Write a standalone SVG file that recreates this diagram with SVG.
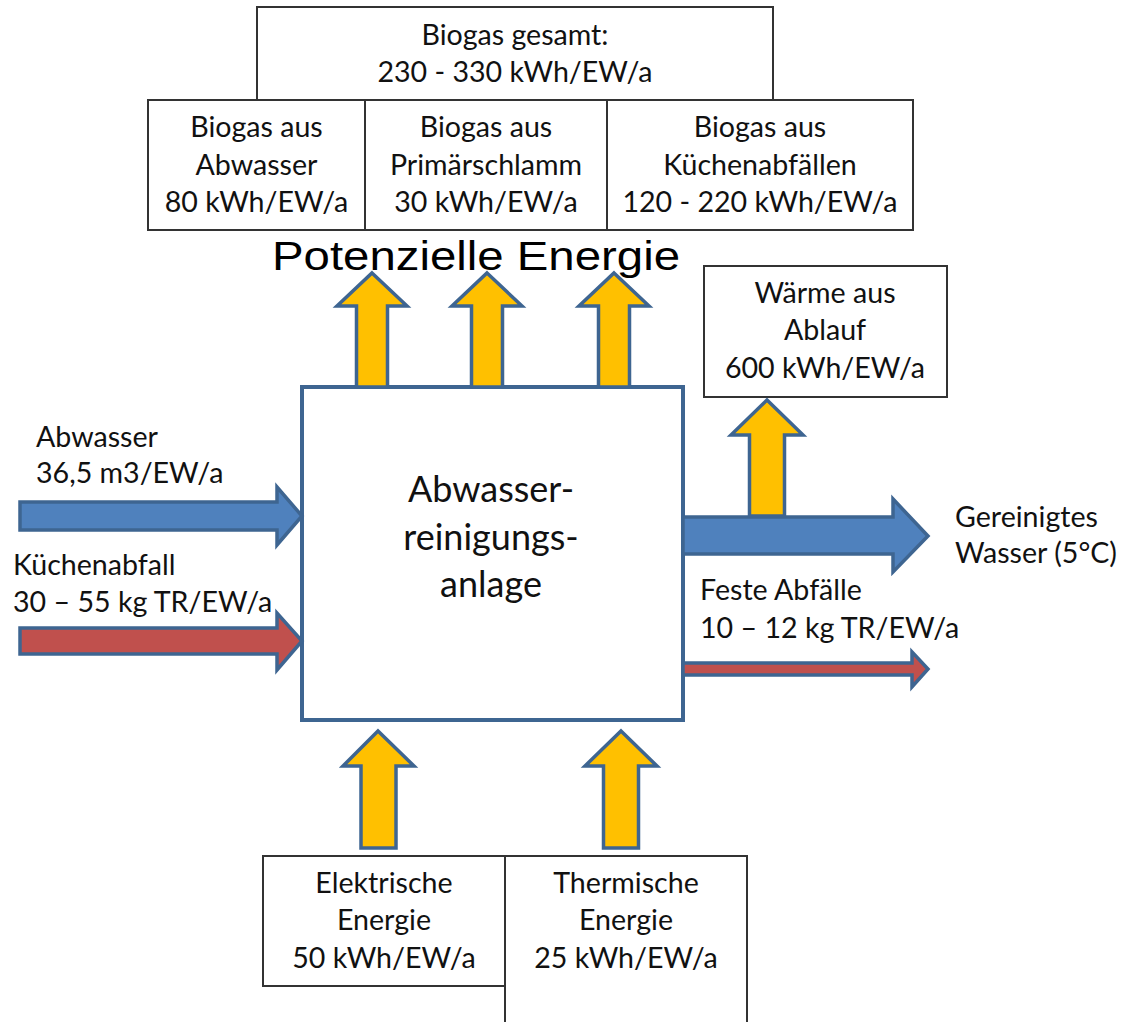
<svg xmlns="http://www.w3.org/2000/svg" width="1130" height="1022" viewBox="0 0 1130 1022">
<style>
.box{fill:#fff;stroke:#333;stroke-width:2}
.main{fill:#fff;stroke:#3E6591;stroke-width:4}
.t{font-family:Lato,"Open Sans","Liberation Sans",sans-serif;font-size:28.6px;fill:#111}
.c{text-anchor:middle}
.big{font-family:Lato,"Open Sans","Liberation Sans",sans-serif;font-size:36px;fill:#111;text-anchor:middle}
.ya{fill:#FFC000;stroke:#3E6591;stroke-width:3.5;stroke-linejoin:miter}
.ba{fill:#4F81BD;stroke:#3E6591;stroke-width:3.5}
.ra{fill:#C0504D;stroke:#3E6591;stroke-width:3.5}
</style>
<rect width="1130" height="1022" fill="#fff"/>

<g id="biogas-gesamt">
<rect class="box" x="257" y="7" width="516" height="93"/>
<text class="t c" x="515" y="45">Biogas gesamt:</text>
<text class="t c" x="515" y="82">230 - 330 kWh/EW/a</text>
</g>
<g id="biogas-abwasser">
<rect class="box" x="148" y="100" width="217" height="130"/>
<text class="t c" x="256.5" y="137">Biogas aus</text>
<text class="t c" x="256.5" y="175">Abwasser</text>
<text class="t c" x="256.5" y="212">80 kWh/EW/a</text>
</g>
<g id="biogas-primaerschlamm">
<rect class="box" x="365" y="100" width="242" height="130"/>
<text class="t c" x="486" y="137">Biogas aus</text>
<text class="t c" x="486" y="175">Primärschlamm</text>
<text class="t c" x="486" y="212">30 kWh/EW/a</text>
</g>
<g id="biogas-kuechenabfaelle">
<rect class="box" x="607" y="100" width="306" height="130"/>
<text class="t c" x="760" y="137">Biogas aus</text>
<text class="t c" x="760" y="175">Küchenabfällen</text>
<text class="t c" x="760" y="212">120 - 220 kWh/EW/a</text>
</g>
<g id="potenzielle-energie">
<text x="272" y="270" font-family="'Liberation Sans',Arial,sans-serif" font-size="41" fill="#000" textLength="408" lengthAdjust="spacingAndGlyphs">Potenzielle Energie</text>
</g>
<g id="waerme-ablauf">
<rect class="box" x="704" y="266" width="243" height="131"/>
<text class="t c" x="825" y="303">Wärme aus</text>
<text class="t c" x="825" y="340">Ablauf</text>
<text class="t c" x="825" y="378">600 kWh/EW/a</text>
</g>
<g id="elektrische-energie">
<rect class="box" x="263" y="856" width="242" height="130"/>
<text class="t c" x="384" y="893">Elektrische</text>
<text class="t c" x="384" y="930">Energie</text>
<text class="t c" x="384" y="968">50 kWh/EW/a</text>
</g>
<g id="thermische-energie">
<rect class="box" x="505" y="856" width="242" height="180"/>
<text class="t c" x="626" y="893">Thermische</text>
<text class="t c" x="626" y="930">Energie</text>
<text class="t c" x="626" y="968">25 kWh/EW/a</text>
</g>
<g id="label-abwasser">
<text class="t" x="36" y="447">Abwasser</text>
<text class="t" x="36" y="483">36,5 m3/EW/a</text>
</g>
<g id="label-kuechenabfall">
<text class="t" x="13" y="575">Küchenabfall</text>
<text class="t" x="13" y="612">30 – 55 kg TR/EW/a</text>
</g>
<g id="label-gereinigt">
<text class="t" x="955" y="527">Gereinigtes</text>
<text class="t" x="955" y="563">Wasser (5°C)</text>
</g>
<g id="label-feste">
<text class="t" x="700" y="600">Feste Abfälle</text>
<text class="t" x="700" y="638">10 – 12 kg TR/EW/a</text>
</g>

<g id="anlage">
<rect class="main" x="302" y="387" width="381" height="333"/>
<text class="big" x="491" y="502">Abwasser-</text>
<text class="big" x="491" y="550">reinigungs-</text>
<text class="big" x="491" y="597">anlage</text>
</g>

<g id="connectors">
<path class="ya" d="M372,273 L407,306 L387.5,306 L387.5,387 L356.5,387 L356.5,306 L337,306 Z"/>
<path class="ya" d="M487,273 L522,306 L502.5,306 L502.5,387 L471.5,387 L471.5,306 L452,306 Z"/>
<path class="ya" d="M614,273 L649,306 L629.5,306 L629.5,387 L598.5,387 L598.5,306 L579,306 Z"/>
<path class="ba" d="M20,502 L277,502 L277,487 L302,516 L277,545 L277,530 L20,530 Z"/>
<path class="ra" d="M20,628 L277,628 L277,613 L302,641 L277,670 L277,654 L20,654 Z"/>
<path class="ba" d="M683,517 L893,517 L893,499 L928,536 L893,572 L893,554 L683,554 Z"/>
<path class="ya" d="M767,400 L803,435 L784.5,435 L784.5,516 L749.5,516 L749.5,435 L731,435 Z"/>
<path class="ra" d="M683,663 L912,663 L912,652 L928,669 L912,687 L912,675 L683,675 Z"/>
<path class="ya" d="M378,731 L414,766 L396,766 L396,848 L361,848 L361,766 L343,766 Z"/>
<path class="ya" d="M621,731 L657,766 L638.5,766 L638.5,848 L603.5,848 L603.5,766 L585,766 Z"/>
</g>
</svg>
